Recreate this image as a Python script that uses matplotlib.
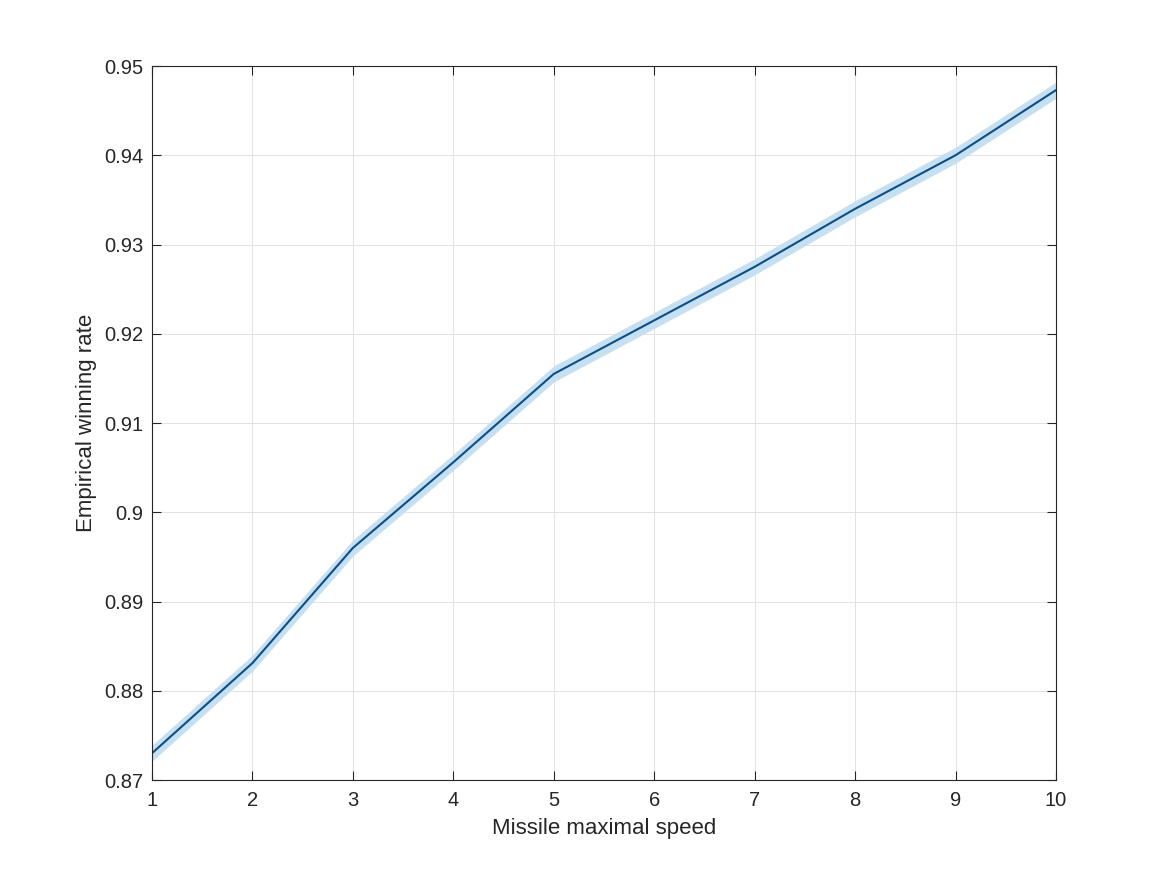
import numpy as np
import matplotlib
matplotlib.use("Agg")
import matplotlib.pyplot as plt

plt.rcParams['font.family'] = ['Liberation Sans', 'DejaVu Sans']

speed = [1, 2, 3, 4, 5, 6, 7, 8, 9, 10]
win_rate = [0.8730, 0.8831, 0.8960, 0.9056, 0.9155, 0.9215, 0.9275, 0.9340, 0.9400, 0.9473]
band = [0.0009, 0.0009, 0.0009, 0.0009, 0.0009, 0.0009, 0.0009, 0.0009, 0.0009, 0.0009]

x = np.array(speed)
y = np.array(win_rate)
e = np.array(band)

fig = plt.figure(figsize=(11.67, 8.75), dpi=100)
ax = fig.add_axes([152 / 1167, 1 - 780 / 875, (1056 - 152) / 1167, (780 - 66) / 875])

ax.fill_between(x, y - e, y + e, color='#c6e0f2', linewidth=0)
ax.plot(x, y, color='#0b4f86', linewidth=1.5)

ax.set_xlim(1, 10)
ax.set_ylim(0.87, 0.95)
ax.set_xticks(speed)
ax.set_yticks(np.arange(0.87, 0.9501, 0.01))
ax.set_yticklabels(['0.87', '0.88', '0.89', '0.9', '0.91', '0.92', '0.93', '0.94', '0.95'])
ax.grid(True, color='#e2e2e2', linewidth=0.7)
ax.set_axisbelow(True)
ax.tick_params(direction='in', length=6.5, width=0.8, labelsize=14.5, colors='#262626',
               top=True, right=True, pad=6)
ax.tick_params(axis='x', pad=8)
for s in ax.spines.values():
    s.set_color('#262626')
    s.set_linewidth(0.8)

ax.set_xlabel('Missile maximal speed', fontsize=16, color='#262626', labelpad=6)
ax.set_ylabel('Empirical winning rate', fontsize=16, color='#262626', labelpad=5)

fig.savefig('out.png', dpi=100)
